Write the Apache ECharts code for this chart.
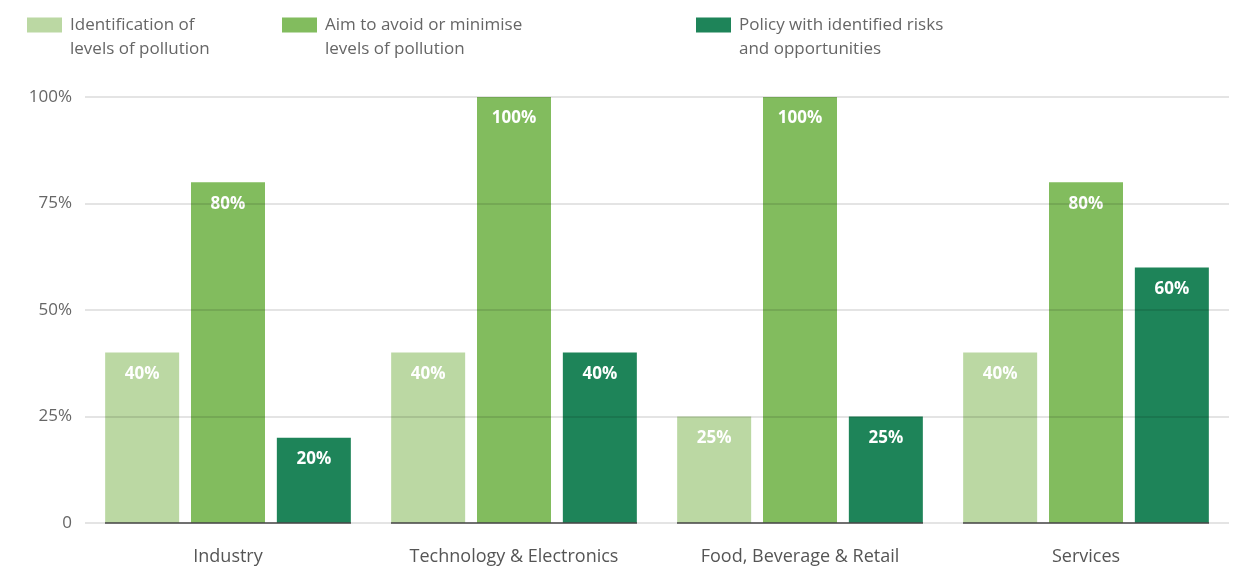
<!DOCTYPE html>
<html>
<head>
<meta charset="utf-8">
<script src="https://cdn.jsdelivr.net/npm/echarts@6/dist/echarts.min.js"></script>
<style>html,body{margin:0;padding:0;background:#fff;}#c{width:1236px;height:567px;}</style>
</head>
<body>
<div id="c"></div>
<script>
const categories = ['Industry', 'Technology & Electronics', 'Food, Beverage & Retail', 'Services'];
const seriesNames = ['Identification of\nlevels of pollution', 'Aim to avoid or minimise\nlevels of pollution', 'Policy with identified risks\nand opportunities'];
const identification = [40, 40, 25, 40];
const aimToAvoid = [80, 100, 100, 80];
const policy = [20, 40, 25, 60];
const yTicks = [0, 25, 50, 75, 100];

const colors = ['#bbd8a3', '#82bc5e', '#1e8459'];
const FONT = 'Open Sans';
const values = [identification, aimToAvoid, policy];

const legendLefts = [27, 282, 696];
const legends = seriesNames.map((n, i) => ({
  data: [n],
  left: legendLefts[i],
  top: -11,
  padding: 0,
  itemWidth: 35,
  itemHeight: 15,
  itemGap: 0,
  icon: 'rect',
  selectedMode: false,
  formatter: name => '\n' + name,
  textStyle: { fontFamily: FONT, fontSize: 17, color: '#666', lineHeight: 24, padding: [0, 0, 0, 3] }
}));

const barSeries = values.map((v, i) => ({
  name: seriesNames[i],
  type: 'bar',
  data: v,
  barWidth: 74,
  barGap: '16%',
  itemStyle: { color: colors[i] },
  label: {
    show: true, position: 'insideTop', distance: 13,
    formatter: p => p.value + '%',
    color: '#fff', fontFamily: FONT, fontWeight: 'bold', fontSize: 17
  }
}));

const baseline = {
  type: 'custom',
  silent: true,
  z: 4,
  data: categories.map((c, i) => [i, 0]),
  renderItem: function (params, api) {
    const p = api.coord([api.value(0), api.value(1)]);
    const w = api.size([1, 0])[0] * (246 / 286);
    return { type: 'line', shape: { x1: p[0] - w / 2, y1: p[1], x2: p[0] + w / 2, y2: p[1] }, style: { stroke: '#4a4a4a', lineWidth: 1.5 } };
  }
};

const chart = echarts.init(document.getElementById('c'), null, { renderer: 'canvas' });
chart.setOption({
  animation: false,
  backgroundColor: '#fff',
  legend: legends,
  grid: { left: 85, right: 7, top: 97, bottom: 44, containLabel: false },
  xAxis: {
    type: 'category', data: categories,
    axisLine: { show: false }, axisTick: { show: false },
    axisLabel: { fontFamily: FONT, fontSize: 18, color: '#555', margin: 25 }
  },
  yAxis: {
    type: 'value', min: 0, max: 100, interval: 25, z: 3,
    axisLine: { show: false }, axisTick: { show: false },
    axisLabel: { fontFamily: FONT, fontSize: 17, color: '#666', margin: 13,
      formatter: v => (yTicks.indexOf(v) >= 0 ? (v === 0 ? '0' : v + '%') : '') },
    splitLine: { lineStyle: { color: 'rgba(0,0,0,0.14)', width: 1.5 } }
  },
  series: [...barSeries, baseline]
});
</script>
</body>
</html>
